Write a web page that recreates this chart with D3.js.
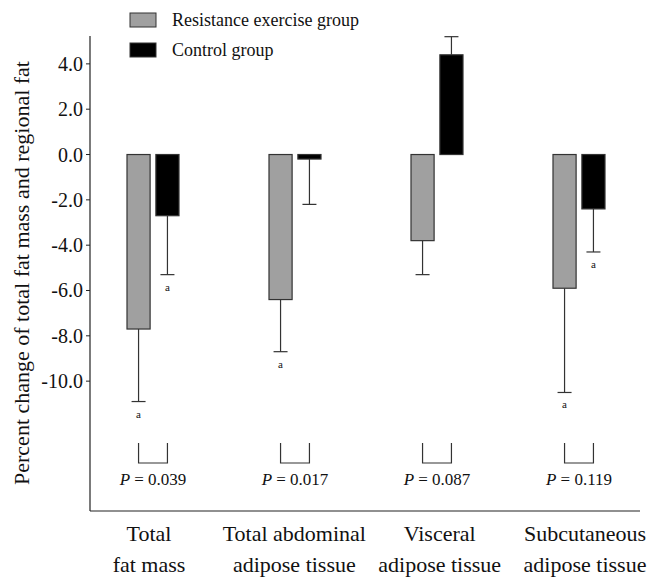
<!DOCTYPE html>
<html>
<head>
<meta charset="utf-8">
<script src="https://cdn.jsdelivr.net/npm/d3@7"></script>
<style>
  body { margin: 0; background: #fff; }
</style>
</head>
<body>
<script>
// categories and series (percent change, mean and SD)
const categories = [
    ["Total", "fat mass"],
    ["Total abdominal", "adipose tissue"],
    ["Visceral", "adipose tissue"],
    ["Subcutaneous", "adipose tissue"]
];
const groups = ["Resistance exercise group", "Control group"];
const exerciseMean = [-7.7, -6.4, -3.8, -5.9];
const exerciseSD = [3.2, 2.3, 1.5, 4.6];
const controlMean = [-2.7, -0.2, 4.4, -2.4];
const controlSD = [2.6, 2.0, 0.8, 1.9];
// "a" marks, one per bar
const exerciseMark = [true, true, false, true];
const controlMark = [true, false, false, true];
const pValues = ["0.039", "0.017", "0.087", "0.119"];
const yTicks = [4, 2, 0, -2, -4, -6, -8, -10];

const width = 650, height = 577;
const fills = ["#a0a0a0", "#000000"];
const ink = "#111";
const serif = "'Liberation Serif', 'Times New Roman', Times, 'DejaVu Serif', serif";

const svg = d3.select("body").append("svg")
    .attr("width", width)
    .attr("height", height)
    .attr("font-family", serif)
    .style("font-family", serif);

const y = d3.scaleLinear().domain([-15.73, 5.23]).range([511, 36]);
const x0 = d3.scaleBand().domain(d3.range(categories.length)).range([82, 650]);
const x1 = d3.scaleBand().domain([0, 1]).range([-26, 26]).paddingInner(0.2);
// category labels sit a little apart from the bar groups
const xLabel = d3.scalePoint().domain(d3.range(categories.length)).range([149, 585]);

const axisLeftX = 90, axisRightX = 640;

// axes
svg.append("line")
    .attr("x1", axisLeftX).attr("x2", axisLeftX)
    .attr("y1", y.range()[1]).attr("y2", y.range()[0])
    .attr("stroke", "#222").attr("stroke-width", 1.2);
svg.append("line")
    .attr("x1", axisLeftX).attr("x2", axisRightX)
    .attr("y1", y.range()[0]).attr("y2", y.range()[0])
    .attr("stroke", "#222").attr("stroke-width", 1.2);

const tick = svg.append("g").selectAll("g")
    .data(yTicks)
    .join("g")
    .attr("transform", d => `translate(${axisLeftX},${y(d)})`);
tick.append("line").attr("x1", -4).attr("x2", 0).attr("stroke", "#222");
tick.append("text")
    .attr("x", -7)
    .attr("dy", "0.35em")
    .attr("text-anchor", "end")
    .attr("font-size", 20)
    .attr("fill", ink)
    .text(d => d.toFixed(1));

svg.append("text")
    .attr("transform", `translate(29,273) rotate(-90)`)
    .attr("text-anchor", "middle")
    .attr("font-size", 22)
    .attr("fill", ink)
    .text("Percent change of total fat mass and regional fat");

// bars
const rows = [];
categories.forEach((c, i) => {
    rows.push({ cat: i, g: 0, mean: exerciseMean[i], sd: exerciseSD[i], mark: exerciseMark[i] });
    rows.push({ cat: i, g: 1, mean: controlMean[i], sd: controlSD[i], mark: controlMark[i] });
});
const cx = d => x0(d.cat) + x0.bandwidth() / 2 + x1(d.g) + x1.bandwidth() / 2;
const tip = d => d.mean + Math.sign(d.mean) * d.sd;

const bar = svg.append("g").selectAll("g")
    .data(rows)
    .join("g");

bar.append("line")
    .attr("x1", cx).attr("x2", cx)
    .attr("y1", d => y(d.mean)).attr("y2", d => y(tip(d)))
    .attr("stroke", "#333").attr("stroke-width", 1.2);
bar.append("line")
    .attr("x1", d => cx(d) - 7).attr("x2", d => cx(d) + 7)
    .attr("y1", d => y(tip(d))).attr("y2", d => y(tip(d)))
    .attr("stroke", "#333").attr("stroke-width", 1.2);

bar.append("rect")
    .attr("x", d => x0(d.cat) + x0.bandwidth() / 2 + x1(d.g))
    .attr("width", x1.bandwidth())
    .attr("y", d => y(Math.max(0, d.mean)))
    .attr("height", d => Math.abs(y(d.mean) - y(0)))
    .attr("fill", d => fills[d.g])
    .attr("stroke", "#333")
    .attr("stroke-width", 1.2);

bar.filter(d => d.mark).append("text")
    .attr("x", cx)
    .attr("y", d => y(tip(d)) + 16)
    .attr("text-anchor", "middle")
    .attr("font-size", 11)
    .attr("fill", ink)
    .text("a");

// p-value brackets
const pg = svg.append("g").selectAll("g")
    .data(pValues)
    .join("g")
    .attr("transform", (d, i) => `translate(${x0(i) + x0.bandwidth() / 2},0)`);
const left = x1(0) + x1.bandwidth() / 2, right = x1(1) + x1.bandwidth() / 2;
pg.append("path")
    .attr("d", `M${left},443V463H${right}V443`)
    .attr("fill", "none")
    .attr("stroke", "#333")
    .attr("stroke-width", 1.2);
const pt = pg.append("text")
    .attr("y", 485)
    .attr("text-anchor", "middle")
    .attr("font-size", 17)
    .attr("fill", ink);
pt.append("tspan").attr("font-style", "italic").text("P");
pt.append("tspan").text(d => " = " + d);

// category labels
const cl = svg.append("g").selectAll("text")
    .data(categories)
    .join("text")
    .attr("text-anchor", "middle")
    .attr("font-size", 22)
    .attr("fill", ink)
    .attr("transform", (d, i) => `translate(${xLabel(i)},541)`);
cl.selectAll("tspan")
    .data(d => d)
    .join("tspan")
    .attr("x", 0)
    .attr("dy", (d, j) => j === 0 ? 0 : 31)
    .text(d => d);

// legend
const lg = svg.append("g").selectAll("g")
    .data(groups)
    .join("g")
    .attr("transform", (d, i) => `translate(130,${13 + i * 30})`);
lg.append("rect")
    .attr("width", 26).attr("height", 14)
    .attr("fill", (d, i) => fills[i])
    .attr("stroke", "#333");
lg.append("text")
    .attr("x", 42).attr("y", 13)
    .attr("font-size", 18)
    .attr("fill", ink)
    .text(d => d);
</script>
</body>
</html>
